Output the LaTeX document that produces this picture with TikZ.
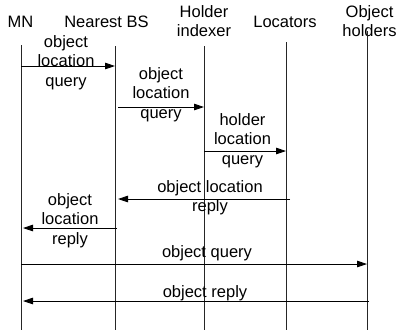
\documentclass[tikz,border=0pt]{standalone}
\usepackage{fontspec}
\setmainfont{Liberation Sans}
\usetikzlibrary{arrows.meta}
\begin{document}
\begin{tikzpicture}[x=1pt,y=-1pt,
		every node/.style={font=\fontsize{16.5}{19.5}\selectfont,inner sep=0pt,align=center},
		lifeline/.style={line width=0.8pt,black!85},
		msg/.style={line width=0.8pt,-{Triangle[length=10pt,width=6.5pt]}}]
		\useasboundingbox (0,0) rectangle (398,333);
		
		% heads of the lifelines
		\coordinate (mn)  at (21,45);
		\coordinate (bs)  at (115,46);
		\coordinate (hi)  at (204,46);
		\coordinate (loc) at (286,42);
		\coordinate (oh)  at (367,31);
		
		\node (mnt)  at (20.5,21.5) {MN};
		\node (bst)  at (106.5,21.5) {Nearest BS};
		\node (hit)  at (204,21)   {Holder\\indexer};
		\node (loct) at (285,21.5) {Locators};
		\node (oht)  at (369.5,21) {Object\\holders};
		
		\foreach \l in {mn,bs,hi,loc,oh}
		\draw[lifeline] (\l) -- (\l |- 0,330);
		
		% messages
		\draw[msg] (mn |- 0,66)  -- (bs |- 0,66);
		\draw[msg] ([xshift=3pt]bs |- 0,107) -- (hi |- 0,107);
		\draw[msg] (hi |- 0,151) -- (loc |- 0,151);
		\draw[msg] ([xshift=4pt]loc |- 0,199) -- ([xshift=3pt]bs |- 0,199);
		\draw[msg] ([xshift=2pt]bs |- 0,228) -- ([xshift=2pt]mn |- 0,228);
		\draw[msg] (mn |- 0,264) -- (oh |- 0,264);
		\draw[msg] ([xshift=2pt]oh |- 0,301) -- ([xshift=2pt]mn |- 0,301);
		
		\node (q1) at (66,62.5)   {object\\location\\query};
		\node (q2) at (161,94.5)  {object\\location\\query};
		\node (q3) at (242.5,140.5) {holder\\location\\query};
		\node (r1) at (210,197.5) {object location\\reply};
		\node (r2) at (70,220.5)  {object\\location\\reply};
		\node (oq) at (207,253.5) {object query};
		\node (or) at (205,293.5) {object reply};
\end{tikzpicture}
\end{document}
